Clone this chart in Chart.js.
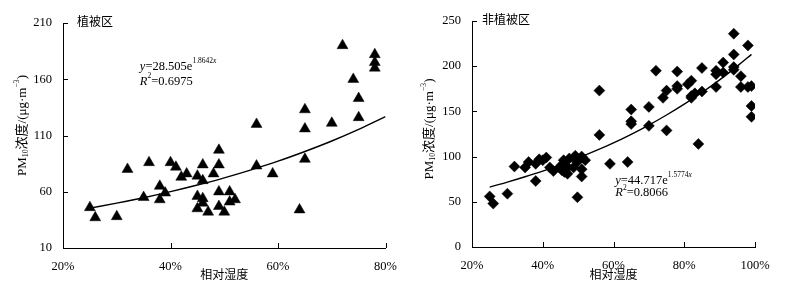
<!DOCTYPE html>
<html>
<head>
<meta charset="utf-8">
<script src="https://cdn.jsdelivr.net/npm/chart.js@4.4.0/dist/chart.umd.min.js"></script>
<style>
  body { margin: 0; background: #fff; }
  #wrap { position: relative; width: 793px; height: 293px; }
  .box { position: absolute; top: 0; }
</style>
</head>
<body>
<div id="wrap">
  <div class="box" style="left:0"><canvas id="vegChart" width="400" height="293"></canvas></div>
  <div class="box" style="left:400px"><canvas id="bareChart" width="393" height="293"></canvas></div>
</div>
<script>
// 植被区: 相对湿度 (%) vs PM10 浓度
const vegRH = [25, 26, 30, 32, 35, 36, 38, 38, 39, 40, 41, 42, 43, 45, 45, 45, 46, 46, 46, 46, 47, 48, 49, 49, 49,
               49, 50, 51, 51, 52, 56, 56, 59, 64, 65, 65, 65, 70, 72, 74, 75, 75, 78, 78, 78];
const vegPM = [46, 37, 38, 80, 55, 86, 65, 53, 59, 86, 82, 73, 76, 74, 56, 45, 84, 70, 54, 50, 42, 76, 97, 84, 60,
               47, 42, 60, 51, 53, 120, 83, 76, 44, 133, 116, 89, 121, 190, 160, 143, 126, 182, 175, 170];
// 拟合曲线
const vegFitRH = [25, 30, 35, 40, 45, 50, 55, 60, 65, 70, 75, 80];
const vegFitPM = [45.4, 49.9, 54.7, 60.1, 66.0, 72.4, 79.5, 87.2, 95.8, 105.1, 115.4, 126.7];
const vegYTicks = [10, 60, 110, 160, 210];

// 非植被区
const bareRH = [25, 26, 30, 32, 35, 36, 38, 38, 39, 40, 41, 42, 43, 44.7, 45.9, 45.4, 46.1, 47, 47.1, 49.2,
                48.7, 49.7, 49.8, 51, 51, 51, 52, 56, 56, 59, 64, 65, 65, 65, 70, 70, 72, 75, 75, 74,
                78, 78, 78, 82, 81, 82, 82, 83, 84, 85, 85, 89, 89, 89, 91, 91, 94, 94, 94, 94,
                96, 96, 98, 98, 99, 99, 99, 47.5, 45.5];
const barePM = [56, 48, 59, 89, 88, 94, 73, 92, 97, 96, 99, 88, 84, 88, 96, 85, 83, 81, 88, 101,
                88, 94, 55, 100, 86, 78, 96, 173, 124, 92, 94, 152, 139, 136, 155, 134, 195, 129, 173, 165,
                194, 178, 175, 184, 180, 167, 165, 170, 114, 198, 172, 177, 195, 191, 204, 193, 236, 213, 199, 196,
                189, 177, 223, 177, 178, 156, 144, 98, 91];
const bareFitRH = [25, 30, 35, 40, 45, 50, 55, 60, 65, 70, 75, 80, 85, 90, 95, 99];
const bareFitPM = [66.3, 71.8, 77.7, 84.0, 90.9, 98.4, 106.5, 115.2, 124.7, 134.9, 146.0, 158.0, 170.9, 184.9, 200.1, 213.1];
const bareYTicks = [0, 50, 100, 150, 200, 250];

const xLabel = '相对湿度';
// PM10浓度/(μg·m-3), drawn with sub/superscript runs
const yLabelRuns = [{ t: 'PM' }, { t: '10', sub: 1 }, { t: '浓度/(μg·m' }, { t: '−3', sup: 1 }, { t: ')' }];

const SERIF = "'Liberation Serif', 'Times New Roman', 'Noto Sans CJK SC', serif";

function runsWidth(ctx, runs, size) {
  let w = 0;
  runs.forEach(r => {
    const fs = (r.sup || r.sub) ? size * 0.6 : size;
    ctx.font = (r.it ? 'italic ' : '') + fs + 'px ' + SERIF;
    w += ctx.measureText(r.t).width;
  });
  return w;
}

function drawRuns(ctx, runs, px, py, size) {
  let cx = px;
  ctx.textBaseline = 'middle';
  ctx.textAlign = 'left';
  runs.forEach(r => {
    const fs = (r.sup || r.sub) ? size * 0.6 : size;
    ctx.font = (r.it ? 'italic ' : '') + fs + 'px ' + SERIF;
    const dy = r.sup ? -size * 0.4 : (r.sub ? size * 0.3 : 0);
    ctx.fillText(r.t, cx, py + dy);
    cx += ctx.measureText(r.t).width;
  });
}

// inward tick marks + y title + panel name + fitted equation
const decor = {
  id: 'decor',
  afterDraw(chart, args, o) {
    const { ctx, chartArea: a } = chart;
    const x = chart.scales.x, y = chart.scales.y;
    ctx.save();
    ctx.strokeStyle = '#000';
    ctx.lineWidth = 1;
    ctx.beginPath();
    x.ticks.forEach(t => {
      const px = Math.round(x.getPixelForValue(t.value)) + 0.5;
      ctx.moveTo(px, a.bottom); ctx.lineTo(px, a.bottom - 5);
    });
    y.ticks.forEach(t => {
      const py = Math.round(y.getPixelForValue(t.value)) + 0.5;
      ctx.moveTo(a.left, py); ctx.lineTo(a.left + 5, py);
    });
    ctx.stroke();

    ctx.fillStyle = '#000';

    // rotated y title
    const ts = 13;
    const tw = runsWidth(ctx, yLabelRuns, ts);
    ctx.save();
    ctx.translate(a.left + o.yTitleDx, (a.top + a.bottom) / 2 + o.yTitleDy);
    ctx.rotate(-Math.PI / 2);
    drawRuns(ctx, yLabelRuns, -tw / 2, 0, ts);
    ctx.restore();

    ctx.font = '12px ' + SERIF;
    ctx.textBaseline = 'middle';
    ctx.fillText(o.name, x.getPixelForValue(o.nameAt[0]), y.getPixelForValue(o.nameAt[1]));
    drawRuns(ctx, o.eq, x.getPixelForValue(o.eqAt[0]), y.getPixelForValue(o.eqAt[1]), 12.5);
    drawRuns(ctx, o.r2, x.getPixelForValue(o.r2At[0]), y.getPixelForValue(o.r2At[1]), 12.5);
    ctx.restore();
  }
};

function buildChart(id, o) {
  const ctx = document.getElementById(id).getContext('2d');
  return new Chart(ctx, {
    type: 'scatter',
    data: {
      datasets: [{
        data: o.xs.map((v, i) => ({ x: v, y: o.ys[i] })),
        pointStyle: o.marker,
        pointRadius: o.radius,
        backgroundColor: '#000',
        borderColor: '#000',
        borderWidth: 0.5
      }, {
        type: 'line',
        data: o.fx.map((v, i) => ({ x: v, y: o.fy[i] })),
        borderColor: '#000',
        borderWidth: 1.4,
        pointRadius: 0,
        fill: false,
        cubicInterpolationMode: 'monotone'
      }]
    },
    options: {
      responsive: false,
      animation: false,
      events: [],
      layout: { padding: o.pad },
      plugins: {
        legend: { display: false },
        tooltip: { enabled: false },
        decor: o.decor
      },
      scales: {
        x: {
          type: 'linear', min: o.xMin, max: o.xMax,
          afterFit: s => { s.height = o.xAxisH; },
          border: { display: true, color: '#000', width: 1 },
          grid: { display: false },
          ticks: { stepSize: 20, padding: 3, color: '#000', maxRotation: 0, autoSkip: false,
                   font: { family: SERIF, size: 12.5 }, callback: v => v + '%' },
          title: { display: true, text: xLabel, color: '#000',
                   font: { family: SERIF, size: 12 }, padding: { top: 0, bottom: 10 } }
        },
        y: {
          type: 'linear', min: o.yTicks[0], max: o.yTicks[o.yTicks.length - 1],
          afterFit: s => { s.width = o.yAxisW; },
          afterBuildTicks: s => { s.ticks = o.yTicks.map(v => ({ value: v })); },
          border: { display: true, color: '#000', width: 1 },
          grid: { display: false },
          ticks: { padding: 3, color: '#000', autoSkip: false, font: { family: SERIF, size: 12.5 } },
          title: { display: false }
        }
      }
    },
    plugins: [decor]
  });
}

buildChart('vegChart', {
  xs: vegRH, ys: vegPM, fx: vegFitRH, fy: vegFitPM,
  marker: 'triangle', radius: 6.3,
  xMin: 20, xMax: 80, yTicks: vegYTicks,
  pad: { left: 0, top: 23, right: 13, bottom: 0 },
  yAxisW: 63, xAxisH: 45,
  decor: {
    yTitleDx: -40.5, yTitleDy: -10,
    name: '植被区', nameAt: [22.6, 210],
    eq: [{ t: 'y', it: 1 }, { t: '=28.505e' }, { t: '1.8642', sup: 1 }, { t: 'x', sup: 1, it: 1 }],
    eqAt: [34.3, 171.4],
    r2: [{ t: 'R', it: 1 }, { t: '2', sup: 1 }, { t: '=0.6975' }],
    r2At: [34.3, 158.1]
  }
});

buildChart('bareChart', {
  xs: bareRH, ys: barePM, fx: bareFitRH, fy: bareFitPM,
  marker: 'rectRot', radius: 5.5,
  xMin: 20, xMax: 100, yTicks: bareYTicks,
  pad: { left: 0, top: 21, right: 38, bottom: 0 },
  yAxisW: 72, xAxisH: 46,
  decor: {
    yTitleDx: -42.5, yTitleDy: -5,
    name: '非植被区', nameAt: [22.8, 250],
    eq: [{ t: 'y', it: 1 }, { t: '=44.717e' }, { t: '1.5774', sup: 1 }, { t: 'x', sup: 1, it: 1 }],
    eqAt: [60.5, 73.6],
    r2: [{ t: 'R', it: 1 }, { t: '2', sup: 1 }, { t: '=0.8066' }],
    r2At: [60.5, 59.6]
  }
});
</script>
</body>
</html>
